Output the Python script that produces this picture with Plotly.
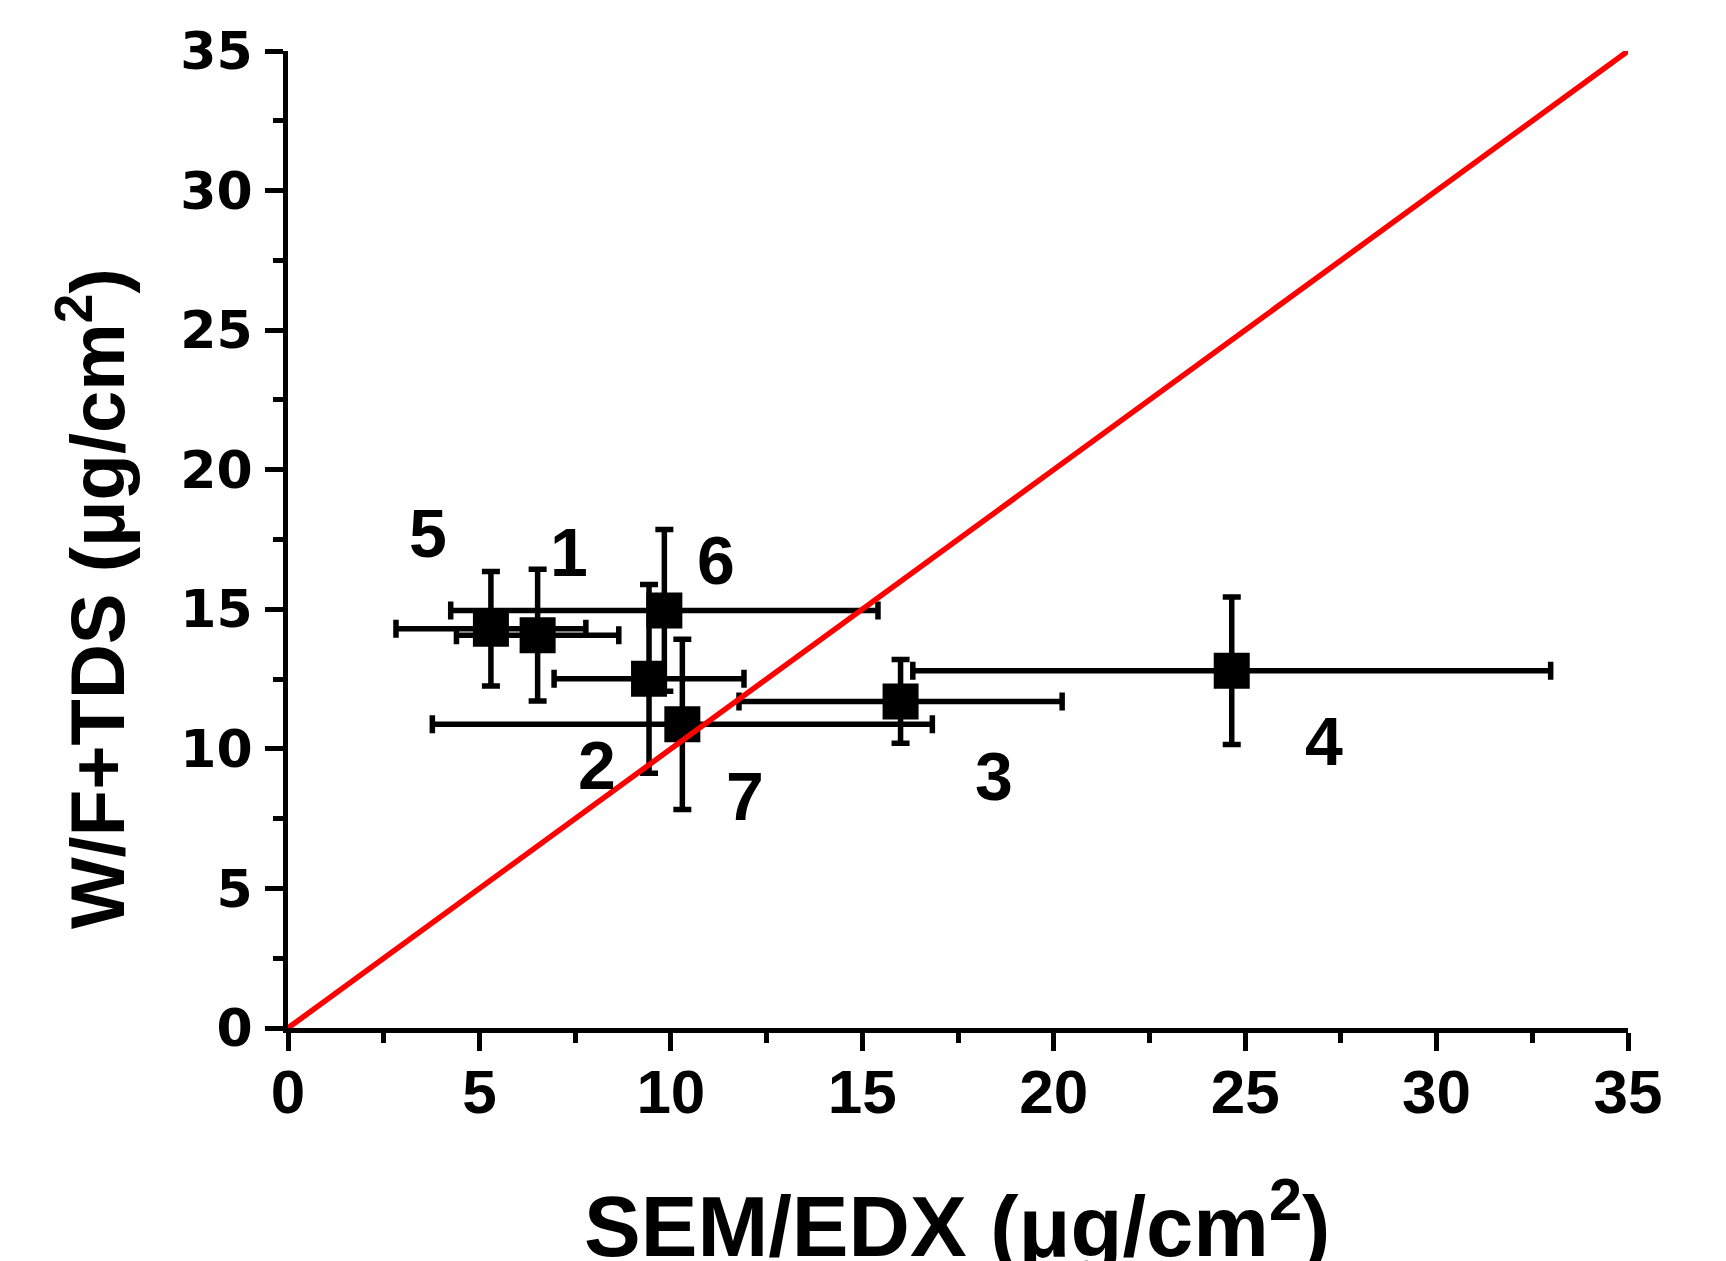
import plotly.graph_objects as go

# Sample numbers
names = ["1", "2", "3", "4", "5", "6", "7"]
sem_edx = [6.52, 9.43, 16.0, 24.65, 5.30, 9.83, 10.30]
sem_edx_err = [2.12, 2.48, 4.22, 8.33, 2.48, 5.58, 6.53]
wf_tds = [14.07, 12.51, 11.70, 12.80, 14.30, 14.96, 10.88]
wf_tds_err = [2.36, 3.38, 1.50, 2.64, 2.05, 2.90, 3.05]

# label placement (data units)
label_x = [7.33, 8.08, 18.44, 27.06, 3.65, 11.19, 11.94]
label_y = [17.07, 9.42, 9.03, 10.29, 17.74, 16.75, 8.32]

# 1:1 reference line
line_x = [0, 35]
line_y = [0, 35]

tick_vals = [0, 5, 10, 15, 20, 25, 30, 35]

W, H = 1726, 1261
L, R, T, B = 280, 106, 43, 241

fig = go.Figure()
fig.add_trace(go.Scatter(
    x=sem_edx, y=wf_tds, mode="markers",
    marker=dict(symbol="square", size=36, color="black"),
    error_x=dict(type="data", array=sem_edx_err, color="black", thickness=5.5, width=9),
    error_y=dict(type="data", array=wf_tds_err, color="black", thickness=5.5, width=9),
    showlegend=False, cliponaxis=False,
))
fig.add_trace(go.Scatter(
    x=line_x, y=line_y, mode="lines",
    line=dict(color="#ff0000", width=5.5),
    showlegend=False,
))

for n, lx, ly in zip(names, label_x, label_y):
    fig.add_annotation(x=lx, y=ly, xref="x", yref="y", text=n, showarrow=False,
                       font=dict(family="Liberation Sans, Arial", size=68, color="black", weight="bold"))

axis_common = dict(
    range=[0, 35], showgrid=False, zeroline=False,
    showline=True, linecolor="black", linewidth=5,
    ticks="outside", ticklen=18, tickwidth=5, tickcolor="black",
    tickvals=tick_vals, ticktext=[str(v) for v in tick_vals],
    minor=dict(ticks="outside", ticklen=10, tickwidth=5, tickcolor="black", dtick=2.5, tick0=0),
)

fig.update_xaxes(**axis_common,
                 tickfont=dict(family="Liberation Sans, Arial", size=62,
                               color="black", weight="bold"),
                 ticklabelstandoff=-12)
fig.update_yaxes(**axis_common,
                 tickfont=dict(family="DejaVu Sans", size=52, color="black", weight="bold"),
                 ticklabelstandoff=2)

# axis titles
fig.add_annotation(xref="paper", yref="paper", x=(84 - L) / (W - L - R), y=0.44,
                   text="W/F+TDS (μg/cm<sup>2</sup>)", textangle=-90, showarrow=False,
                   xanchor="center", yanchor="middle",
                   font=dict(family="Liberation Sans, Arial", size=76,
                             color="black", weight="bold"))
fig.add_annotation(xref="paper", yref="paper", x=0.499, y=-(1156 - (H - B)) / (H - T - B),
                   text="SEM/EDX (μg/cm<sup>2</sup>)", showarrow=False,
                   xanchor="center", yanchor="top",
                   font=dict(family="Liberation Sans, Arial", size=85, color="black", weight="bold"))

fig.update_layout(
    width=W, height=H,
    margin=dict(l=L, r=R, t=T, b=B),
    plot_bgcolor="white", paper_bgcolor="white",
)

fig.write_html("out.html")
